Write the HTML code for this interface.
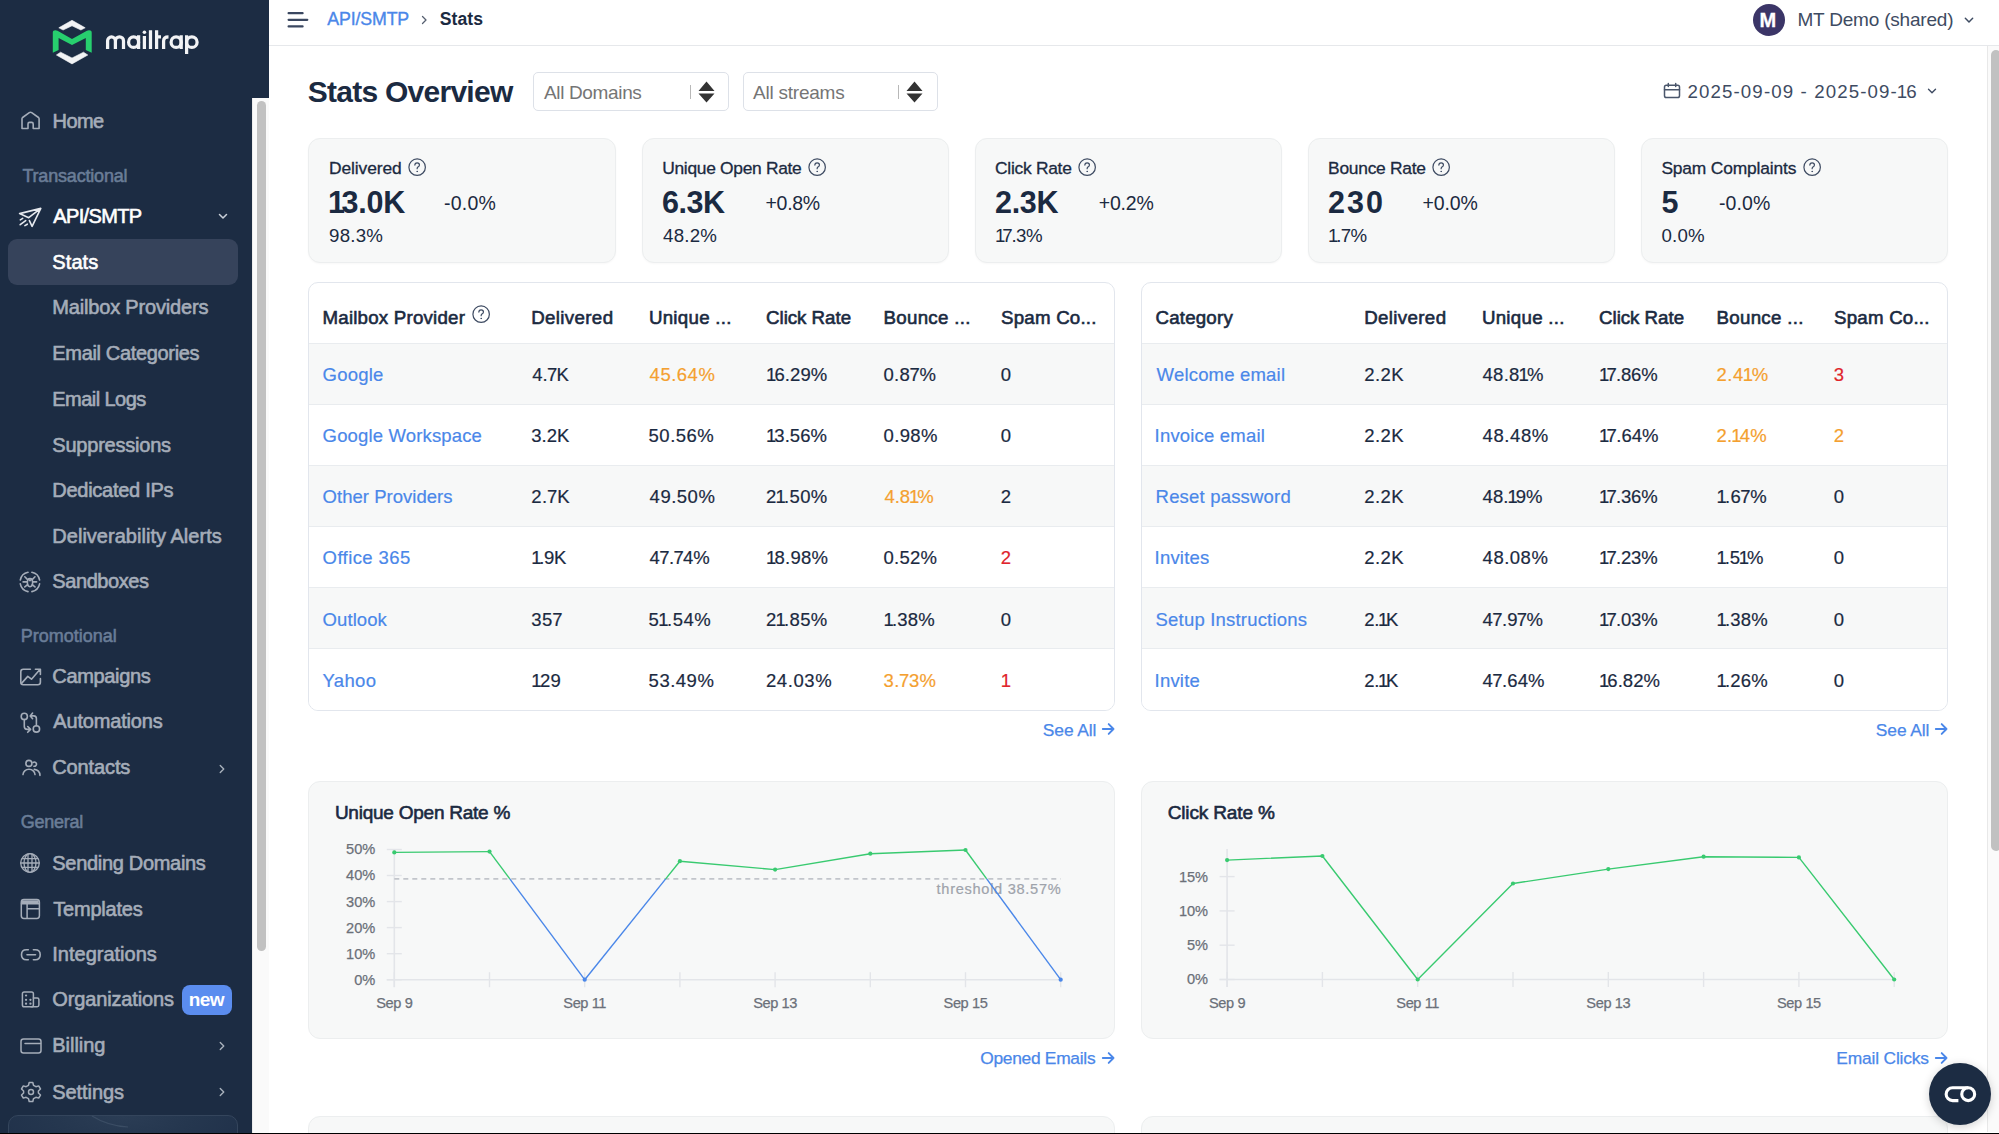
<!DOCTYPE html>
<html><head><meta charset="utf-8"><title>Stats Overview</title>
<style>
html,body{margin:0;padding:0;}
body{width:1999px;height:1134px;overflow:hidden;position:relative;background:#fff;font-family:"Liberation Sans",sans-serif;}
.t{position:absolute;white-space:nowrap;line-height:1;}
svg{position:absolute;overflow:visible;}
</style></head><body>
<div style="position:absolute;left:0px;top:0px;width:269px;height:1134px;background:#1c2c43;"></div>
<div style="position:absolute;left:252px;top:98px;width:17px;height:1036px;background:#fafafa;border-left:1px solid #ececec;box-sizing:border-box;"></div>
<div style="position:absolute;left:256.5px;top:101px;width:9px;height:850px;background:#c1c1c1;border-radius:4.5px;"></div>
<svg style="left:0;top:0" width="269" height="98" viewBox="0 0 269 98">
<path d="M58.8 27.8L72 20.3L85.2 27.8L80.9 30L72 25.8L63.1 30Z" fill="#f2f3f5" stroke="#f2f3f5" stroke-width="0.6" stroke-linejoin="round"/>
<path d="M52.8 52.7V32.6Q52.8 30.2 55.4 30.2Q56.4 30.2 57.5 30.8L72 38.9L86.9 30.8Q88 30.2 89 30.2Q91.7 30.2 91.7 32.6V52.7L85.8 49.9V38L72 44.9L58.6 38V49.9Z" fill="#27cf6e"/>
<path d="M56.4 55L60.6 52.2L72 58L83.5 52.2L87.8 55L72 63.9Z" fill="#f2f3f5" stroke="#f2f3f5" stroke-width="0.6" stroke-linejoin="round"/>
<g fill="none" stroke="#f2f3f5" stroke-width="3.25">
<path d="M107.6 49V40.8A3.9 3.9 0 0 1 115.4 40.8V49M115.4 40.8A4.05 4.05 0 0 1 123.5 40.8V49"/>
<ellipse cx="133.6" cy="42.15" rx="5" ry="5.25"/><path d="M138.6 35.25V49"/>
<path d="M144.4 36V49M150.5 30.25V49M156.6 30.25V49M155 36.9H161"/>
<path d="M163.6 49V41Q163.6 36.9 168.5 36.9"/>
<ellipse cx="176.15" cy="42.15" rx="5.05" ry="5.25"/><path d="M181.2 35.25V49"/>
<ellipse cx="191.85" cy="42.15" rx="5.25" ry="5.25"/><path d="M186.6 35.25V54"/>
</g>
<circle cx="144.4" cy="32.25" r="1.8" fill="#f2f3f5"/>
</svg>
<svg style="left:19px;top:108px" width="24" height="24" viewBox="0 0 24 24" fill="none" stroke="#a5adb9" stroke-width="1.6" stroke-linecap="round" stroke-linejoin="round"><path d="M3 20.5V10.8Q3 10 3.6 9.5L10.3 4.6Q11.5 3.8 12.7 4.6L19.5 9.5Q20.1 10 20.1 10.8V20.5H14.2V15.9Q14.2 14.4 12.7 14.4H10.5Q9 14.4 9 15.9V20.5Z"/></svg>
<svg style="left:18px;top:206px" width="24" height="24" viewBox="0 0 24 24" fill="none" stroke="#e6e9ee" stroke-width="1.6" stroke-linecap="round" stroke-linejoin="round"><path d="M22.8 2.4L1.6 7.6L10.7 11.7Z M22.8 2.4L14.1 20.4L11.4 14.6M2.3 13.9L4.7 12.4M2.2 18.7L7.7 14.6M6.9 19.6L9.3 18.2"/></svg>
<svg style="left:215.7px;top:208.8px" width="14" height="14" viewBox="0 0 24 24" fill="none" stroke="#c9cfd8" stroke-width="2.6" stroke-linecap="round" stroke-linejoin="round"><path d="M6 9.5l6 6 6-6"/></svg>
<div style="position:absolute;left:8px;top:239px;width:230px;height:46px;background:#36435b;border-radius:9px;"></div>
<svg style="left:18.2px;top:570.2px" width="24" height="24" viewBox="0 0 24 24" fill="none" stroke="#a5adb9" stroke-width="1.6" stroke-linecap="round" stroke-linejoin="round"><path d="M13.9 2.3A9.8 9.8 0 0 1 21.6 10M21.6 13.9A9.8 9.8 0 0 1 13.9 21.6M10 21.6A9.8 9.8 0 0 1 2.3 13.9M2.3 10A9.8 9.8 0 0 1 10 2.3"/><ellipse cx="12" cy="12.6" rx="2.6" ry="4.1"/><path d="M5.1 11.9H9.3M14.7 11.9H18.6M6.8 6.8L9.6 9.6M17 6.8L14.2 9.6M6.8 16.9L9.6 14.7M17 16.9L14.2 14.7M10.6 9.2L12 10.6L13.4 9.2"/></svg>
<svg style="left:18px;top:664px" width="24" height="24" viewBox="0 0 24 24" fill="none" stroke="#a5adb9" stroke-width="1.6" stroke-linecap="round" stroke-linejoin="round"><path d="M12.4 5.2H5.3Q2.8 5.2 2.8 7.7V18.3Q2.8 20.8 5.3 20.8H19.9Q22.4 20.8 22.4 18.3V14.6"/><path d="M3.5 19.4L9.8 12.4L13.5 15.2L22.1 5.3M17.4 5.2H22.4V10.5"/></svg>
<svg style="left:18px;top:710px" width="24" height="24" viewBox="0 0 24 24" fill="none" stroke="#a5adb9" stroke-width="1.6" stroke-linecap="round" stroke-linejoin="round"><circle cx="6.3" cy="6.4" r="3.1"/><circle cx="18.4" cy="18.9" r="3.2"/><path d="M6.3 9.5V16.5Q6.3 19.4 9.3 19.4H12.4M9.7 16.5L12.6 19.4L9.7 22.3M18.4 15.7V8.6Q18.4 5.9 15.8 5.9H12.4M14.6 3.1L12.2 5.9L14.6 8.7"/></svg>
<svg style="left:18.5px;top:755px" width="24" height="24" viewBox="0 0 24 24" fill="none" stroke="#a5adb9" stroke-width="1.6" stroke-linecap="round" stroke-linejoin="round"><circle cx="9.9" cy="8.4" r="3"/><path d="M14.1 7.5A2.1 2.1 0 1 1 14.9 11.2"/><path d="M4 19.6A6 5.4 0 0 1 16 19.6M15.3 14.4Q20.6 14.9 21 20.4"/></svg>
<svg style="left:215px;top:762px" width="14" height="14" viewBox="0 0 24 24" fill="none" stroke="#a9b1bc" stroke-width="2.4" stroke-linecap="round" stroke-linejoin="round"><path d="M9 6l6 6-6 6"/></svg>
<svg style="left:215px;top:1039px" width="14" height="14" viewBox="0 0 24 24" fill="none" stroke="#a9b1bc" stroke-width="2.4" stroke-linecap="round" stroke-linejoin="round"><path d="M9 6l6 6-6 6"/></svg>
<svg style="left:215px;top:1085px" width="14" height="14" viewBox="0 0 24 24" fill="none" stroke="#a9b1bc" stroke-width="2.4" stroke-linecap="round" stroke-linejoin="round"><path d="M9 6l6 6-6 6"/></svg>
<svg style="left:18.2px;top:851.2px" width="24" height="24" viewBox="0 0 24 24" fill="none" stroke="#a5adb9" stroke-width="1.3" stroke-linecap="round" stroke-linejoin="round"><circle cx="12" cy="12" r="9.3"/><ellipse cx="12" cy="12" rx="6" ry="9.3"/><path d="M10 2.9V21.1M14 2.9V21.1M4.2 7.6H19.8M2.8 12H21.2M4.2 16.4H19.8"/></svg>
<svg style="left:18px;top:897px" width="24" height="24" viewBox="0 0 24 24" fill="none" stroke="#a5adb9" stroke-width="1.5" stroke-linecap="round" stroke-linejoin="round"><rect x="3.3" y="2.6" width="18.1" height="18.8" rx="2.6"/><path d="M3.5 6.8H21.2M9.1 6.8V21.2M9.1 11.8H21.2"/><path d="M4 3.3H20.7V6.8H4Z" fill="#a5adb9" stroke="none"/></svg>
<svg style="left:18.5px;top:943px" width="24" height="24" viewBox="0 0 24 24" fill="none" stroke="#a5adb9" stroke-width="1.6" stroke-linecap="round" stroke-linejoin="round"><path d="M9.3 6.8H7.4Q2.5 6.8 2.5 11.75Q2.5 16.7 7.4 16.7H9.3M14.4 6.8H16.3Q21.2 6.8 21.2 11.75Q21.2 16.7 16.3 16.7H14.4M8 11.75H16.5"/></svg>
<svg style="left:19px;top:988px" width="24" height="24" viewBox="0 0 24 24" fill="none" stroke="#a5adb9" stroke-width="1.5" stroke-linecap="round" stroke-linejoin="round"><rect x="3.4" y="3.9" width="11" height="14.8" rx="1.8"/><path d="M14.4 9.9H18.2Q19.9 9.9 19.9 11.6V17Q19.9 18.7 18.2 18.7H12"/><path d="M7 7.5h.1M7 11.8h.1M11.4 11.8h.1M7 15.7h.1M11.4 15.7h.1" stroke-width="2.2"/></svg>
<div style="position:absolute;left:182px;top:985px;width:50px;height:30px;background:#5b8def;border-radius:8px;"></div>
<svg style="left:18.5px;top:1033.5px" width="24" height="24" viewBox="0 0 24 24" fill="none" stroke="#a5adb9" stroke-width="1.5" stroke-linecap="round" stroke-linejoin="round"><rect x="2" y="5" width="20" height="14" rx="2.5"/><path d="M6 9.5H21.5"/></svg>
<svg style="left:18.9px;top:1080.2px" width="24" height="24" viewBox="0 0 24 24" fill="none" stroke="#a5adb9" stroke-width="1.5" stroke-linecap="round" stroke-linejoin="round"><circle cx="12" cy="12" r="2.5"/><path d="M10.2 2.5H13.8L14.5 5.3L16.9 6.7L19.7 5.9L21.5 9L19.4 11V13L21.5 15L19.7 18.1L16.9 17.3L14.5 18.7L13.8 21.5H10.2L9.5 18.7L7.1 17.3L4.3 18.1L2.5 15L4.6 13V11L2.5 9L4.3 5.9L7.1 6.7L9.5 5.3Z"/></svg>
<div style="position:absolute;left:8px;top:1115px;width:230px;height:40px;background:radial-gradient(ellipse 60% 120% at 50% 0%,#2b3d55 0%,#25374f 50%,#20314a 100%);border:1px solid #34455c;border-radius:10px;box-sizing:border-box;"></div>
<svg style="left:0;top:1100px" width="269" height="34"><path d="M92 16Q108 26 128 27" fill="none" stroke="#3b4d64" stroke-width="1.2"/></svg>
<div style="position:absolute;left:269px;top:0px;width:1730px;height:45px;background:#fff;border-bottom:1px solid #e6e8eb;"></div>
<svg style="left:286px;top:11px" width="24" height="18" viewBox="0 0 24 18" fill="none" stroke="#3a4760" stroke-width="2.2" stroke-linecap="round"><path d="M2.6 2.2H16.6M2.6 8.8H21.3M2.6 15.4H16.6"/></svg>
<svg style="left:418px;top:14px" width="12" height="12" viewBox="0 0 24 24" fill="none" stroke="#555f70" stroke-width="2.6" stroke-linecap="round" stroke-linejoin="round"><path d="M9 5l7 7-7 7"/></svg>
<div style="position:absolute;left:1753px;top:3.5px;width:32px;height:32px;background:#3b3567;border-radius:50%;"></div>
<svg style="left:1961px;top:12px" width="16" height="16" viewBox="0 0 24 24" fill="none" stroke="#3e4b62" stroke-width="2.2" stroke-linecap="round" stroke-linejoin="round"><path d="M6.5 9.5l5.5 5.5 5.5-5.5"/></svg>
<div style="position:absolute;left:1987px;top:46px;width:12px;height:1086px;background:#fafafa;border-left:1px solid #e8e8e8;box-sizing:border-box;"></div>
<div style="position:absolute;left:1991px;top:50px;width:10px;height:801px;background:#c1c1c1;border-radius:5px;"></div>
<div style="position:absolute;left:533px;top:72px;width:196px;height:39px;border:1px solid #dde1e8;border-radius:5px;box-sizing:border-box;background:#fff;"></div>
<div style="position:absolute;left:689.5px;top:85px;width:1.3px;height:14px;background:#b8b8b8;"></div>
<svg style="left:697.5px;top:81px" width="17" height="22" viewBox="0 0 17 22"><path d="M8.5 0.5L16.5 10H0.5Z M0.5 12.5H16.5L8.5 21.5Z" fill="#333"/></svg>
<div style="position:absolute;left:742.5px;top:72px;width:195px;height:39px;border:1px solid #dde1e8;border-radius:5px;box-sizing:border-box;background:#fff;"></div>
<div style="position:absolute;left:898px;top:85px;width:1.3px;height:14px;background:#b8b8b8;"></div>
<svg style="left:906px;top:81px" width="17" height="22" viewBox="0 0 17 22"><path d="M8.5 0.5L16.5 10H0.5Z M0.5 12.5H16.5L8.5 21.5Z" fill="#333"/></svg>
<svg style="left:1662px;top:82px" width="20" height="18" viewBox="0 0 20 18" fill="none" stroke="#4a566b" stroke-width="1.5" stroke-linecap="round"><rect x="2.5" y="3.3" width="15" height="12.2" rx="1.8"/><path d="M2.5 7.7H17.5M6.3 1.5V4.5M13.7 1.5V4.5"/></svg>
<svg style="left:1925px;top:84px" width="14" height="14" viewBox="0 0 24 24" fill="none" stroke="#3e4b62" stroke-width="2.4" stroke-linecap="round" stroke-linejoin="round"><path d="M6 9l6 6 6-6"/></svg>
<div style="position:absolute;left:308.4px;top:138px;width:307.2px;height:124.6px;background:#f7f8f8;border:1px solid #eceeef;border-radius:12px;box-sizing:border-box;box-shadow:0 1px 2px rgba(0,0,0,0.03);"></div>
<div style="position:absolute;left:641.8px;top:138px;width:307.2px;height:124.6px;background:#f7f8f8;border:1px solid #eceeef;border-radius:12px;box-sizing:border-box;box-shadow:0 1px 2px rgba(0,0,0,0.03);"></div>
<div style="position:absolute;left:975.1px;top:138px;width:307.2px;height:124.6px;background:#f7f8f8;border:1px solid #eceeef;border-radius:12px;box-sizing:border-box;box-shadow:0 1px 2px rgba(0,0,0,0.03);"></div>
<div style="position:absolute;left:1308.3px;top:138px;width:307.2px;height:124.6px;background:#f7f8f8;border:1px solid #eceeef;border-radius:12px;box-sizing:border-box;box-shadow:0 1px 2px rgba(0,0,0,0.03);"></div>
<div style="position:absolute;left:1641.1px;top:138px;width:307.2px;height:124.6px;background:#f7f8f8;border:1px solid #eceeef;border-radius:12px;box-sizing:border-box;box-shadow:0 1px 2px rgba(0,0,0,0.03);"></div>
<svg style="left:408px;top:158.2px" width="18.3" height="18.3" viewBox="0 0 24 24" fill="none" stroke="#3e4b62" stroke-width="1.6" stroke-linecap="round" stroke-linejoin="round"><circle cx="12" cy="12" r="10.8"/><path d="M9 9.3Q9 6.3 12 6.3Q15 6.3 15 9.2Q15 11 12.8 12Q12 12.5 12 14"/><circle cx="12" cy="17.6" r="0.5" fill="#3e4b62" stroke-width="1.2"/></svg>
<svg style="left:808px;top:158.2px" width="18.3" height="18.3" viewBox="0 0 24 24" fill="none" stroke="#3e4b62" stroke-width="1.6" stroke-linecap="round" stroke-linejoin="round"><circle cx="12" cy="12" r="10.8"/><path d="M9 9.3Q9 6.3 12 6.3Q15 6.3 15 9.2Q15 11 12.8 12Q12 12.5 12 14"/><circle cx="12" cy="17.6" r="0.5" fill="#3e4b62" stroke-width="1.2"/></svg>
<svg style="left:1078.3px;top:158.2px" width="18.3" height="18.3" viewBox="0 0 24 24" fill="none" stroke="#3e4b62" stroke-width="1.6" stroke-linecap="round" stroke-linejoin="round"><circle cx="12" cy="12" r="10.8"/><path d="M9 9.3Q9 6.3 12 6.3Q15 6.3 15 9.2Q15 11 12.8 12Q12 12.5 12 14"/><circle cx="12" cy="17.6" r="0.5" fill="#3e4b62" stroke-width="1.2"/></svg>
<svg style="left:1432px;top:158.2px" width="18.3" height="18.3" viewBox="0 0 24 24" fill="none" stroke="#3e4b62" stroke-width="1.6" stroke-linecap="round" stroke-linejoin="round"><circle cx="12" cy="12" r="10.8"/><path d="M9 9.3Q9 6.3 12 6.3Q15 6.3 15 9.2Q15 11 12.8 12Q12 12.5 12 14"/><circle cx="12" cy="17.6" r="0.5" fill="#3e4b62" stroke-width="1.2"/></svg>
<svg style="left:1803.3px;top:158.2px" width="18.3" height="18.3" viewBox="0 0 24 24" fill="none" stroke="#3e4b62" stroke-width="1.6" stroke-linecap="round" stroke-linejoin="round"><circle cx="12" cy="12" r="10.8"/><path d="M9 9.3Q9 6.3 12 6.3Q15 6.3 15 9.2Q15 11 12.8 12Q12 12.5 12 14"/><circle cx="12" cy="17.6" r="0.5" fill="#3e4b62" stroke-width="1.2"/></svg>
<div style="position:absolute;left:308.4px;top:282px;width:807px;height:429px;background:#fff;border:1.5px solid #e2e6ed;border-radius:10px;box-sizing:border-box;overflow:hidden;"><div style="position:absolute;left:0;top:59.80px;width:100%;height:62px;background:#f7f8f8;border-top:1px solid #e9ecef;box-sizing:border-box;"></div><div style="position:absolute;left:0;top:120.92px;width:100%;height:62px;background:#ffffff;border-top:1px solid #e9ecef;box-sizing:border-box;"></div><div style="position:absolute;left:0;top:182.04px;width:100%;height:62px;background:#f7f8f8;border-top:1px solid #e9ecef;box-sizing:border-box;"></div><div style="position:absolute;left:0;top:243.16px;width:100%;height:62px;background:#ffffff;border-top:1px solid #e9ecef;box-sizing:border-box;"></div><div style="position:absolute;left:0;top:304.28px;width:100%;height:62px;background:#f7f8f8;border-top:1px solid #e9ecef;box-sizing:border-box;"></div><div style="position:absolute;left:0;top:365.40px;width:100%;height:62px;background:#ffffff;border-top:1px solid #e9ecef;box-sizing:border-box;"></div></div>
<div style="position:absolute;left:1141.4px;top:282px;width:807px;height:429px;background:#fff;border:1.5px solid #e2e6ed;border-radius:10px;box-sizing:border-box;overflow:hidden;"><div style="position:absolute;left:0;top:59.80px;width:100%;height:62px;background:#f7f8f8;border-top:1px solid #e9ecef;box-sizing:border-box;"></div><div style="position:absolute;left:0;top:120.92px;width:100%;height:62px;background:#ffffff;border-top:1px solid #e9ecef;box-sizing:border-box;"></div><div style="position:absolute;left:0;top:182.04px;width:100%;height:62px;background:#f7f8f8;border-top:1px solid #e9ecef;box-sizing:border-box;"></div><div style="position:absolute;left:0;top:243.16px;width:100%;height:62px;background:#ffffff;border-top:1px solid #e9ecef;box-sizing:border-box;"></div><div style="position:absolute;left:0;top:304.28px;width:100%;height:62px;background:#f7f8f8;border-top:1px solid #e9ecef;box-sizing:border-box;"></div><div style="position:absolute;left:0;top:365.40px;width:100%;height:62px;background:#ffffff;border-top:1px solid #e9ecef;box-sizing:border-box;"></div></div>
<svg style="left:471.5px;top:304.5px" width="18.3" height="18.3" viewBox="0 0 24 24" fill="none" stroke="#3e4b62" stroke-width="1.6" stroke-linecap="round" stroke-linejoin="round"><circle cx="12" cy="12" r="10.8"/><path d="M9 9.3Q9 6.3 12 6.3Q15 6.3 15 9.2Q15 11 12.8 12Q12 12.5 12 14"/><circle cx="12" cy="17.6" r="0.5" fill="#3e4b62" stroke-width="1.2"/></svg>
<svg style="left:1099.9px;top:722.2px" width="16.299999999999955" height="14" viewBox="-2 -7 16.299999999999955 14" fill="none" stroke="#4a87e9" stroke-width="1.9" stroke-linecap="round" stroke-linejoin="round"><path d="M0.8 0H11.499999999999954M6.699999999999955 -4.9L11.499999999999954 0L6.699999999999955 4.9"/></svg>
<svg style="left:1932.9px;top:722.2px" width="16.299999999999955" height="14" viewBox="-2 -7 16.299999999999955 14" fill="none" stroke="#4a87e9" stroke-width="1.9" stroke-linecap="round" stroke-linejoin="round"><path d="M0.8 0H11.499999999999954M6.699999999999955 -4.9L11.499999999999954 0L6.699999999999955 4.9"/></svg>
<svg style="left:1100.2px;top:1050.6px" width="16.299999999999955" height="14" viewBox="-2 -7 16.299999999999955 14" fill="none" stroke="#4a87e9" stroke-width="1.9" stroke-linecap="round" stroke-linejoin="round"><path d="M0.8 0H11.499999999999954M6.699999999999955 -4.9L11.499999999999954 0L6.699999999999955 4.9"/></svg>
<svg style="left:1932.7px;top:1050.6px" width="16.299999999999955" height="14" viewBox="-2 -7 16.299999999999955 14" fill="none" stroke="#4a87e9" stroke-width="1.9" stroke-linecap="round" stroke-linejoin="round"><path d="M0.8 0H11.499999999999954M6.699999999999955 -4.9L11.499999999999954 0L6.699999999999955 4.9"/></svg>
<div style="position:absolute;left:308.4px;top:781px;width:807px;height:258px;background:#f7f8f8;border:1px solid #eceeef;border-radius:12px;box-sizing:border-box;"></div>
<div style="position:absolute;left:1141.4px;top:781px;width:807px;height:258px;background:#f7f8f8;border:1px solid #eceeef;border-radius:12px;box-sizing:border-box;"></div>
<svg style="left:0;top:0" width="1999" height="1134" viewBox="0 0 1999 1134"><path d="M394.3 849V987M386.8 979.7H1060.7" stroke="#e3e5e9" stroke-width="1.6" fill="none"/><path d="M386.8 979.7H401.8" stroke="#e3e5e9" stroke-width="1.4"/><text x="375.3" y="984.6" text-anchor="end" font-family="Liberation Sans" font-size="14.6" fill="#6b7079" stroke="#6b7079" stroke-width="0.25">0%</text><path d="M386.8 953.7H401.8" stroke="#e3e5e9" stroke-width="1.4"/><text x="375.3" y="958.6" text-anchor="end" font-family="Liberation Sans" font-size="14.6" fill="#6b7079" stroke="#6b7079" stroke-width="0.25">10%</text><path d="M386.8 927.6H401.8" stroke="#e3e5e9" stroke-width="1.4"/><text x="375.3" y="932.5" text-anchor="end" font-family="Liberation Sans" font-size="14.6" fill="#6b7079" stroke="#6b7079" stroke-width="0.25">20%</text><path d="M386.8 901.6H401.8" stroke="#e3e5e9" stroke-width="1.4"/><text x="375.3" y="906.5" text-anchor="end" font-family="Liberation Sans" font-size="14.6" fill="#6b7079" stroke="#6b7079" stroke-width="0.25">30%</text><path d="M386.8 875.5H401.8" stroke="#e3e5e9" stroke-width="1.4"/><text x="375.3" y="880.4" text-anchor="end" font-family="Liberation Sans" font-size="14.6" fill="#6b7079" stroke="#6b7079" stroke-width="0.25">40%</text><path d="M386.8 849.5H401.8" stroke="#e3e5e9" stroke-width="1.4"/><text x="375.3" y="854.4" text-anchor="end" font-family="Liberation Sans" font-size="14.6" fill="#6b7079" stroke="#6b7079" stroke-width="0.25">50%</text><path d="M394.3 972.2V987.2" stroke="#e3e5e9" stroke-width="1.4"/><path d="M489.5 972.2V987.2" stroke="#e3e5e9" stroke-width="1.4"/><path d="M584.7 972.2V987.2" stroke="#e3e5e9" stroke-width="1.4"/><path d="M679.9 972.2V987.2" stroke="#e3e5e9" stroke-width="1.4"/><path d="M775.1 972.2V987.2" stroke="#e3e5e9" stroke-width="1.4"/><path d="M870.3 972.2V987.2" stroke="#e3e5e9" stroke-width="1.4"/><path d="M965.5 972.2V987.2" stroke="#e3e5e9" stroke-width="1.4"/><path d="M1060.7 972.2V987.2" stroke="#e3e5e9" stroke-width="1.4"/><text x="394.3" y="1008" text-anchor="middle" font-family="Liberation Sans" font-size="14.6" fill="#6b7079" stroke="#6b7079" stroke-width="0.25" letter-spacing="-0.4">Sep 9</text><text x="584.7" y="1008" text-anchor="middle" font-family="Liberation Sans" font-size="14.6" fill="#6b7079" stroke="#6b7079" stroke-width="0.25" letter-spacing="-0.4">Sep 11</text><text x="775.1" y="1008" text-anchor="middle" font-family="Liberation Sans" font-size="14.6" fill="#6b7079" stroke="#6b7079" stroke-width="0.25" letter-spacing="-0.4">Sep 13</text><text x="965.5" y="1008" text-anchor="middle" font-family="Liberation Sans" font-size="14.6" fill="#6b7079" stroke="#6b7079" stroke-width="0.25" letter-spacing="-0.4">Sep 15</text><path d="M394.3 878.9H1060.7" stroke="#c2c5cb" stroke-width="1.6" stroke-dasharray="5 4" fill="none"/><text x="1061.4" y="894.3" text-anchor="end" font-family="Liberation Sans" font-size="14.6" fill="#9ea3ab" stroke="#9ea3ab" stroke-width="0.2" letter-spacing="0.7">threshold 38.57%</text><path d="M394.3 852.4L489.5 851.6" stroke="#39ca70" stroke-width="1.4" fill="none"/><path d="M489.5 851.6L509.8 878.9" stroke="#39ca70" stroke-width="1.4" fill="none"/><path d="M509.8 878.9L584.7 979.7" stroke="#4a87e9" stroke-width="1.4" fill="none"/><path d="M584.7 979.7L665.7 878.9" stroke="#4a87e9" stroke-width="1.4" fill="none"/><path d="M665.7 878.9L679.9 861.2" stroke="#39ca70" stroke-width="1.4" fill="none"/><path d="M679.9 861.2L775.1 869.6" stroke="#39ca70" stroke-width="1.4" fill="none"/><path d="M775.1 869.6L870.3 853.7" stroke="#39ca70" stroke-width="1.4" fill="none"/><path d="M870.3 853.7L965.5 850.0" stroke="#39ca70" stroke-width="1.4" fill="none"/><path d="M965.5 850.0L986.7 878.9" stroke="#39ca70" stroke-width="1.4" fill="none"/><path d="M986.7 878.9L1060.7 979.7" stroke="#4a87e9" stroke-width="1.4" fill="none"/><circle cx="394.3" cy="852.4" r="2.1" fill="#39ca70"/><circle cx="489.5" cy="851.6" r="2.1" fill="#39ca70"/><circle cx="584.7" cy="979.7" r="2.1" fill="#4a87e9"/><circle cx="679.9" cy="861.2" r="2.1" fill="#39ca70"/><circle cx="775.1" cy="869.6" r="2.1" fill="#39ca70"/><circle cx="870.3" cy="853.7" r="2.1" fill="#39ca70"/><circle cx="965.5" cy="850.0" r="2.1" fill="#39ca70"/><circle cx="1060.7" cy="979.7" r="2.1" fill="#4a87e9"/><path d="M1227.1 849V987M1219.6 979.5H1894.1999999999998" stroke="#e3e5e9" stroke-width="1.6" fill="none"/><path d="M1219.6 979.5H1234.6" stroke="#e3e5e9" stroke-width="1.4"/><text x="1208.1" y="984.4" text-anchor="end" font-family="Liberation Sans" font-size="14.6" fill="#6b7079" stroke="#6b7079" stroke-width="0.25">0%</text><path d="M1219.6 945.2H1234.6" stroke="#e3e5e9" stroke-width="1.4"/><text x="1208.1" y="950.1" text-anchor="end" font-family="Liberation Sans" font-size="14.6" fill="#6b7079" stroke="#6b7079" stroke-width="0.25">5%</text><path d="M1219.6 910.9H1234.6" stroke="#e3e5e9" stroke-width="1.4"/><text x="1208.1" y="915.8" text-anchor="end" font-family="Liberation Sans" font-size="14.6" fill="#6b7079" stroke="#6b7079" stroke-width="0.25">10%</text><path d="M1219.6 876.6H1234.6" stroke="#e3e5e9" stroke-width="1.4"/><text x="1208.1" y="881.5" text-anchor="end" font-family="Liberation Sans" font-size="14.6" fill="#6b7079" stroke="#6b7079" stroke-width="0.25">15%</text><path d="M1227.1 972.0V987.0" stroke="#e3e5e9" stroke-width="1.4"/><path d="M1322.4 972.0V987.0" stroke="#e3e5e9" stroke-width="1.4"/><path d="M1417.7 972.0V987.0" stroke="#e3e5e9" stroke-width="1.4"/><path d="M1513.0 972.0V987.0" stroke="#e3e5e9" stroke-width="1.4"/><path d="M1608.3 972.0V987.0" stroke="#e3e5e9" stroke-width="1.4"/><path d="M1703.6 972.0V987.0" stroke="#e3e5e9" stroke-width="1.4"/><path d="M1798.9 972.0V987.0" stroke="#e3e5e9" stroke-width="1.4"/><path d="M1894.2 972.0V987.0" stroke="#e3e5e9" stroke-width="1.4"/><text x="1227.1" y="1008" text-anchor="middle" font-family="Liberation Sans" font-size="14.6" fill="#6b7079" stroke="#6b7079" stroke-width="0.25" letter-spacing="-0.4">Sep 9</text><text x="1417.7" y="1008" text-anchor="middle" font-family="Liberation Sans" font-size="14.6" fill="#6b7079" stroke="#6b7079" stroke-width="0.25" letter-spacing="-0.4">Sep 11</text><text x="1608.3" y="1008" text-anchor="middle" font-family="Liberation Sans" font-size="14.6" fill="#6b7079" stroke="#6b7079" stroke-width="0.25" letter-spacing="-0.4">Sep 13</text><text x="1798.9" y="1008" text-anchor="middle" font-family="Liberation Sans" font-size="14.6" fill="#6b7079" stroke="#6b7079" stroke-width="0.25" letter-spacing="-0.4">Sep 15</text><path d="M1227.1 860.1L1322.4 856.0L1417.7 979.5L1513.0 883.5L1608.3 869.1L1703.6 856.7L1798.9 857.4L1894.2 979.5" stroke="#39ca70" stroke-width="1.4" fill="none" stroke-linejoin="round"/><circle cx="1227.1" cy="860.1" r="2.1" fill="#39ca70"/><circle cx="1322.4" cy="856.0" r="2.1" fill="#39ca70"/><circle cx="1417.7" cy="979.5" r="2.1" fill="#39ca70"/><circle cx="1513.0" cy="883.5" r="2.1" fill="#39ca70"/><circle cx="1608.3" cy="869.1" r="2.1" fill="#39ca70"/><circle cx="1703.6" cy="856.7" r="2.1" fill="#39ca70"/><circle cx="1798.9" cy="857.4" r="2.1" fill="#39ca70"/><circle cx="1894.2" cy="979.5" r="2.1" fill="#39ca70"/></svg>
<div style="position:absolute;left:308.4px;top:1116px;width:807px;height:60px;background:#f7f8f8;border:1px solid #eceeef;border-radius:12px;box-sizing:border-box;"></div>
<div style="position:absolute;left:1141.4px;top:1116px;width:807px;height:60px;background:#f7f8f8;border:1px solid #eceeef;border-radius:12px;box-sizing:border-box;"></div>
<div style="position:absolute;left:1929px;top:1063px;width:62px;height:62px;background:#1c2c43;border-radius:50%;box-shadow:0 2px 10px rgba(0,0,0,0.18);"></div>
<svg style="left:1940px;top:1082px" width="40" height="24" viewBox="0 0 40 24" fill="none" stroke="#fff" stroke-width="3.1"><path d="M18.4 18.6H12.6A6.45 6.45 0 0 1 12.6 5.7H28.2"/><circle cx="28.2" cy="12.15" r="6.45"/></svg>
<div class="t" style="left:52.60px;top:110.80px;font-size:20px;color:#a5adb9;letter-spacing:-0.567px;--l:-0.567px;-webkit-text-stroke:0.6px #a5adb9;">Home</div>
<div class="t" style="left:53.30px;top:206.00px;font-size:20px;color:#ffffff;letter-spacing:-0.643px;--l:-0.643px;-webkit-text-stroke:0.6px #ffffff;">API/SMTP</div>
<div class="t" style="left:52.30px;top:251.70px;font-size:20px;color:#ffffff;letter-spacing:0.100px;--l:0.100px;-webkit-text-stroke:0.6px #ffffff;">Stats</div>
<div class="t" style="left:52.30px;top:297.20px;font-size:20px;color:#a5adb9;letter-spacing:-0.175px;--l:-0.175px;-webkit-text-stroke:0.6px #a5adb9;">Mailbox Providers</div>
<div class="t" style="left:52.30px;top:343.30px;font-size:20px;color:#a5adb9;letter-spacing:-0.333px;--l:-0.333px;-webkit-text-stroke:0.6px #a5adb9;">Email Categories</div>
<div class="t" style="left:52.30px;top:388.90px;font-size:20px;color:#a5adb9;letter-spacing:-0.556px;--l:-0.556px;-webkit-text-stroke:0.6px #a5adb9;">Email Logs</div>
<div class="t" style="left:52.30px;top:434.50px;font-size:20px;color:#a5adb9;letter-spacing:-0.218px;--l:-0.218px;-webkit-text-stroke:0.6px #a5adb9;">Suppressions</div>
<div class="t" style="left:52.30px;top:480.00px;font-size:20px;color:#a5adb9;letter-spacing:-0.275px;--l:-0.275px;-webkit-text-stroke:0.6px #a5adb9;">Dedicated IPs</div>
<div class="t" style="left:52.30px;top:525.60px;font-size:20px;color:#a5adb9;letter-spacing:0.025px;--l:0.025px;-webkit-text-stroke:0.6px #a5adb9;">Deliverability Alerts</div>
<div class="t" style="left:52.30px;top:571.20px;font-size:20px;color:#a5adb9;letter-spacing:-0.412px;--l:-0.412px;-webkit-text-stroke:0.6px #a5adb9;">Sandboxes</div>
<div class="t" style="left:52.30px;top:665.70px;font-size:20px;color:#a5adb9;letter-spacing:-0.338px;--l:-0.338px;-webkit-text-stroke:0.6px #a5adb9;">Campaigns</div>
<div class="t" style="left:53.30px;top:711.40px;font-size:20px;color:#a5adb9;letter-spacing:-0.180px;--l:-0.180px;-webkit-text-stroke:0.6px #a5adb9;">Automations</div>
<div class="t" style="left:52.30px;top:757.00px;font-size:20px;color:#a5adb9;letter-spacing:-0.129px;--l:-0.129px;-webkit-text-stroke:0.6px #a5adb9;">Contacts</div>
<div class="t" style="left:52.30px;top:852.60px;font-size:20px;color:#a5adb9;letter-spacing:-0.307px;--l:-0.307px;-webkit-text-stroke:0.6px #a5adb9;">Sending Domains</div>
<div class="t" style="left:53.30px;top:898.50px;font-size:20px;color:#a5adb9;letter-spacing:-0.225px;--l:-0.225px;-webkit-text-stroke:0.6px #a5adb9;">Templates</div>
<div class="t" style="left:52.30px;top:944.00px;font-size:20px;color:#a5adb9;-webkit-text-stroke:0.6px #a5adb9;">Integrations</div>
<div class="t" style="left:52.30px;top:989.20px;font-size:20px;color:#a5adb9;letter-spacing:-0.150px;--l:-0.150px;-webkit-text-stroke:0.6px #a5adb9;">Organizations</div>
<div class="t" style="left:52.30px;top:1035.00px;font-size:20px;color:#a5adb9;letter-spacing:-0.033px;--l:-0.033px;-webkit-text-stroke:0.6px #a5adb9;">Billing</div>
<div class="t" style="left:52.30px;top:1081.70px;font-size:20px;color:#a5adb9;letter-spacing:-0.071px;--l:-0.071px;-webkit-text-stroke:0.6px #a5adb9;">Settings</div>
<div class="t" style="left:22.40px;top:166.80px;font-size:18px;color:#6a7d97;letter-spacing:-0.183px;--l:-0.183px;-webkit-text-stroke:0.55px #6a7d97;">Transactional</div>
<div class="t" style="left:20.70px;top:627.00px;font-size:18px;color:#6a7d97;letter-spacing:-0.010px;--l:-0.010px;-webkit-text-stroke:0.55px #6a7d97;">Promotional</div>
<div class="t" style="left:20.70px;top:813.40px;font-size:18px;color:#6a7d97;letter-spacing:-0.250px;--l:-0.250px;-webkit-text-stroke:0.55px #6a7d97;">General</div>
<div class="t" style="left:188.70px;top:990.20px;font-size:19px;color:#ffffff;font-weight:700;letter-spacing:-0.500px;--l:-0.500px;">new</div>
<div class="t" style="left:327.30px;top:11.30px;font-size:17.8px;color:#4a87e9;letter-spacing:-0.157px;--l:-0.157px;-webkit-text-stroke:0.35px #4a87e9;">API/SMTP</div>
<div class="t" style="left:439.70px;top:11.30px;font-size:17.6px;color:#1b2a41;font-weight:700;letter-spacing:0.075px;--l:0.075px;">Stats</div>
<div class="t" style="left:1797.40px;top:10.30px;font-size:19px;color:#3e4b62;letter-spacing:-0.193px;--l:-0.193px;">MT Demo (shared)</div>
<div class="t" style="left:1759.60px;top:10.00px;font-size:20px;color:#ffffff;font-weight:700;-webkit-text-stroke:0.3px #ffffff;">M</div>
<div class="t" style="left:307.80px;top:77.30px;font-size:30px;color:#1b2a41;font-weight:700;letter-spacing:-0.746px;--l:-0.746px;">Stats Overview</div>
<div class="t" style="left:544.00px;top:82.70px;font-size:19px;color:#757575;letter-spacing:-0.350px;--l:-0.350px;">All Domains</div>
<div class="t" style="left:753.00px;top:82.70px;font-size:19px;color:#757575;letter-spacing:-0.230px;--l:-0.230px;">All streams</div>
<div class="t" style="left:1687.50px;top:83.40px;font-size:18.7px;color:#3e4b62;letter-spacing:1.114px;--l:1.114px;">2025-09-09 - 2025-09<span style="letter-spacing:calc(var(--l) + -1.12px)">-</span><span style="letter-spacing:calc(var(--l) + -2.06px)">1</span>6</div>
<div class="t" style="left:329.00px;top:159.80px;font-size:17.4px;color:#1b2a41;letter-spacing:-0.100px;--l:-0.100px;-webkit-text-stroke:0.3px #1b2a41;">Delivered</div>
<div class="t" style="left:662.20px;top:159.80px;font-size:17.4px;color:#1b2a41;letter-spacing:-0.300px;--l:-0.300px;-webkit-text-stroke:0.3px #1b2a41;">Unique Open Rate</div>
<div class="t" style="left:995.10px;top:159.80px;font-size:17.4px;color:#1b2a41;letter-spacing:-0.278px;--l:-0.278px;-webkit-text-stroke:0.3px #1b2a41;">Click Rate</div>
<div class="t" style="left:1328.10px;top:159.80px;font-size:17.4px;color:#1b2a41;letter-spacing:-0.270px;--l:-0.270px;-webkit-text-stroke:0.3px #1b2a41;">Bounce Rate</div>
<div class="t" style="left:1661.40px;top:159.80px;font-size:17.4px;color:#1b2a41;letter-spacing:-0.164px;--l:-0.164px;-webkit-text-stroke:0.3px #1b2a41;">Spam Complaints</div>
<div class="t" style="left:328.00px;top:187.30px;font-size:30.5px;color:#1b2a41;font-weight:700;letter-spacing:-0.175px;--l:-0.175px;"><span style="letter-spacing:calc(var(--l) + -3.35px)">1</span>3.0K</div>
<div class="t" style="left:662.00px;top:187.30px;font-size:30.5px;color:#1b2a41;font-weight:700;letter-spacing:-0.500px;--l:-0.500px;">6.3K</div>
<div class="t" style="left:995.10px;top:187.30px;font-size:30.5px;color:#1b2a41;font-weight:700;letter-spacing:-0.367px;--l:-0.367px;">2.3K</div>
<div class="t" style="left:1328.00px;top:187.30px;font-size:30.5px;color:#1b2a41;font-weight:700;letter-spacing:2.000px;--l:2.000px;">230</div>
<div class="t" style="left:1661.40px;top:187.30px;font-size:30.5px;color:#1b2a41;font-weight:700;">5</div>
<div class="t" style="left:444.00px;top:193.60px;font-size:19.5px;color:#1b2a41;letter-spacing:0.250px;--l:0.250px;">-0.0%</div>
<div class="t" style="left:765.50px;top:193.60px;font-size:19.5px;color:#1b2a41;letter-spacing:-0.300px;--l:-0.300px;">+0.8%</div>
<div class="t" style="left:1098.70px;top:193.60px;font-size:19.5px;color:#1b2a41;letter-spacing:-0.175px;--l:-0.175px;">+0.2%</div>
<div class="t" style="left:1422.50px;top:193.60px;font-size:19.5px;color:#1b2a41;letter-spacing:-0.150px;--l:-0.150px;">+0.0%</div>
<div class="t" style="left:1719.00px;top:193.60px;font-size:19.5px;color:#1b2a41;letter-spacing:0.075px;--l:0.075px;">-0.0%</div>
<div class="t" style="left:329.00px;top:226.70px;font-size:18.7px;color:#1b2a41;letter-spacing:0.250px;--l:0.250px;">98.3%</div>
<div class="t" style="left:663.00px;top:226.70px;font-size:18.7px;color:#1b2a41;letter-spacing:0.250px;--l:0.250px;">48.2%</div>
<div class="t" style="left:995.00px;top:226.70px;font-size:18.7px;color:#1b2a41;letter-spacing:-0.525px;--l:-0.525px;"><span style="letter-spacing:calc(var(--l) + -2.71px)">1</span><span style="letter-spacing:calc(var(--l) + -0.65px)">7</span>.3%</div>
<div class="t" style="left:1328.00px;top:226.70px;font-size:18.7px;color:#1b2a41;letter-spacing:-0.067px;--l:-0.067px;"><span style="letter-spacing:calc(var(--l) + -2.06px)">1</span><span style="letter-spacing:calc(var(--l) + -0.65px)">.</span><span style="letter-spacing:calc(var(--l) + -0.65px)">7</span>%</div>
<div class="t" style="left:1661.40px;top:226.70px;font-size:18.7px;color:#1b2a41;letter-spacing:0.200px;--l:0.200px;">0.0%</div>
<div class="t" style="left:322.50px;top:308.90px;font-size:18.7px;color:#1b2a41;letter-spacing:0.213px;--l:0.213px;-webkit-text-stroke:0.6px #1b2a41;">Mailbox Provider</div>
<div class="t" style="left:531.20px;top:308.90px;font-size:18.7px;color:#1b2a41;letter-spacing:0.362px;--l:0.362px;-webkit-text-stroke:0.6px #1b2a41;">Delivered</div>
<div class="t" style="left:648.90px;top:308.90px;font-size:18.7px;color:#1b2a41;letter-spacing:0.289px;--l:0.289px;-webkit-text-stroke:0.6px #1b2a41;">Unique ...</div>
<div class="t" style="left:766.00px;top:308.90px;font-size:18.7px;color:#1b2a41;letter-spacing:-0.011px;--l:-0.011px;-webkit-text-stroke:0.6px #1b2a41;">Click Rate</div>
<div class="t" style="left:883.50px;top:308.90px;font-size:18.7px;color:#1b2a41;letter-spacing:0.300px;--l:0.300px;-webkit-text-stroke:0.6px #1b2a41;">Bounce ...</div>
<div class="t" style="left:1001.10px;top:308.90px;font-size:18.7px;color:#1b2a41;letter-spacing:0.211px;--l:0.211px;-webkit-text-stroke:0.6px #1b2a41;">Spam Co...</div>
<div class="t" style="left:1155.50px;top:308.90px;font-size:18.7px;color:#1b2a41;letter-spacing:0.200px;--l:0.200px;-webkit-text-stroke:0.6px #1b2a41;">Category</div>
<div class="t" style="left:1364.20px;top:308.90px;font-size:18.7px;color:#1b2a41;letter-spacing:0.362px;--l:0.362px;-webkit-text-stroke:0.6px #1b2a41;">Delivered</div>
<div class="t" style="left:1481.90px;top:308.90px;font-size:18.7px;color:#1b2a41;letter-spacing:0.289px;--l:0.289px;-webkit-text-stroke:0.6px #1b2a41;">Unique ...</div>
<div class="t" style="left:1599.00px;top:308.90px;font-size:18.7px;color:#1b2a41;letter-spacing:-0.011px;--l:-0.011px;-webkit-text-stroke:0.6px #1b2a41;">Click Rate</div>
<div class="t" style="left:1716.50px;top:308.90px;font-size:18.7px;color:#1b2a41;letter-spacing:0.300px;--l:0.300px;-webkit-text-stroke:0.6px #1b2a41;">Bounce ...</div>
<div class="t" style="left:1834.10px;top:308.90px;font-size:18.7px;color:#1b2a41;letter-spacing:0.211px;--l:0.211px;-webkit-text-stroke:0.6px #1b2a41;">Spam Co...</div>
<div class="t" style="left:322.60px;top:366.10px;font-size:18.5px;color:#4a87e9;letter-spacing:0.200px;--l:0.200px;-webkit-text-stroke:0.2px #4a87e9;">Google</div>
<div class="t" style="left:532.30px;top:366.10px;font-size:18.5px;color:#1b2a41;letter-spacing:-0.067px;--l:-0.067px;-webkit-text-stroke:0.2px #1b2a41;">4<span style="letter-spacing:calc(var(--l) + -0.65px)">.</span><span style="letter-spacing:calc(var(--l) + -0.65px)">7</span>K</div>
<div class="t" style="left:649.60px;top:366.10px;font-size:18.5px;color:#f4a02f;letter-spacing:0.500px;--l:0.500px;-webkit-text-stroke:0.2px #f4a02f;">45.64%</div>
<div class="t" style="left:766.00px;top:366.10px;font-size:18.5px;color:#1b2a41;letter-spacing:0.120px;--l:0.120px;-webkit-text-stroke:0.2px #1b2a41;"><span style="letter-spacing:calc(var(--l) + -2.04px)">1</span>6.29%</div>
<div class="t" style="left:883.50px;top:366.10px;font-size:18.5px;color:#1b2a41;letter-spacing:0.325px;--l:0.325px;-webkit-text-stroke:0.2px #1b2a41;">0.<span style="letter-spacing:calc(var(--l) + -0.65px)">8</span><span style="letter-spacing:calc(var(--l) + -0.65px)">7</span>%</div>
<div class="t" style="left:1000.80px;top:366.10px;font-size:18.5px;color:#1b2a41;letter-spacing:0.500px;--l:0.500px;-webkit-text-stroke:0.2px #1b2a41;">0</div>
<div class="t" style="left:322.60px;top:427.22px;font-size:18.5px;color:#4a87e9;letter-spacing:0.153px;--l:0.153px;-webkit-text-stroke:0.2px #4a87e9;">Google Workspace</div>
<div class="t" style="left:531.30px;top:427.22px;font-size:18.5px;color:#1b2a41;letter-spacing:0.000px;--l:0.000px;-webkit-text-stroke:0.2px #1b2a41;">3.2K</div>
<div class="t" style="left:648.60px;top:427.22px;font-size:18.5px;color:#1b2a41;letter-spacing:0.480px;--l:0.480px;-webkit-text-stroke:0.2px #1b2a41;">50.56%</div>
<div class="t" style="left:766.00px;top:427.22px;font-size:18.5px;color:#1b2a41;letter-spacing:0.060px;--l:0.060px;-webkit-text-stroke:0.2px #1b2a41;"><span style="letter-spacing:calc(var(--l) + -2.04px)">1</span>3.56%</div>
<div class="t" style="left:883.50px;top:427.22px;font-size:18.5px;color:#1b2a41;letter-spacing:0.375px;--l:0.375px;-webkit-text-stroke:0.2px #1b2a41;">0.98%</div>
<div class="t" style="left:1000.80px;top:427.22px;font-size:18.5px;color:#1b2a41;letter-spacing:0.500px;--l:0.500px;-webkit-text-stroke:0.2px #1b2a41;">0</div>
<div class="t" style="left:322.60px;top:488.34px;font-size:18.5px;color:#4a87e9;letter-spacing:0.029px;--l:0.029px;-webkit-text-stroke:0.2px #4a87e9;">Other Providers</div>
<div class="t" style="left:531.30px;top:488.34px;font-size:18.5px;color:#1b2a41;letter-spacing:0.500px;--l:0.500px;-webkit-text-stroke:0.2px #1b2a41;">2<span style="letter-spacing:calc(var(--l) + -0.65px)">.</span><span style="letter-spacing:calc(var(--l) + -0.65px)">7</span>K</div>
<div class="t" style="left:649.60px;top:488.34px;font-size:18.5px;color:#1b2a41;letter-spacing:0.500px;--l:0.500px;-webkit-text-stroke:0.2px #1b2a41;">49.50%</div>
<div class="t" style="left:766.00px;top:488.34px;font-size:18.5px;color:#1b2a41;letter-spacing:0.320px;--l:0.320px;-webkit-text-stroke:0.2px #1b2a41;"><span style="letter-spacing:calc(var(--l) + -1.11px)">2</span><span style="letter-spacing:calc(var(--l) + -2.04px)">1</span>.50%</div>
<div class="t" style="left:884.50px;top:488.34px;font-size:18.5px;color:#f4a02f;letter-spacing:-0.050px;--l:-0.050px;-webkit-text-stroke:0.2px #f4a02f;">4.<span style="letter-spacing:calc(var(--l) + -1.11px)">8</span><span style="letter-spacing:calc(var(--l) + -2.04px)">1</span>%</div>
<div class="t" style="left:1000.80px;top:488.34px;font-size:18.5px;color:#1b2a41;letter-spacing:0.500px;--l:0.500px;-webkit-text-stroke:0.2px #1b2a41;">2</div>
<div class="t" style="left:322.60px;top:549.46px;font-size:18.5px;color:#4a87e9;letter-spacing:0.411px;--l:0.411px;-webkit-text-stroke:0.2px #4a87e9;">Office 365</div>
<div class="t" style="left:531.30px;top:549.46px;font-size:18.5px;color:#1b2a41;letter-spacing:-0.333px;--l:-0.333px;-webkit-text-stroke:0.2px #1b2a41;"><span style="letter-spacing:calc(var(--l) + -2.04px)">1</span>.9K</div>
<div class="t" style="left:649.60px;top:549.46px;font-size:18.5px;color:#1b2a41;letter-spacing:0.000px;--l:0.000px;-webkit-text-stroke:0.2px #1b2a41;"><span style="letter-spacing:calc(var(--l) + -0.65px)">4</span><span style="letter-spacing:calc(var(--l) + -0.65px)">7</span><span style="letter-spacing:calc(var(--l) + -0.65px)">.</span><span style="letter-spacing:calc(var(--l) + -0.65px)">7</span>4%</div>
<div class="t" style="left:766.00px;top:549.46px;font-size:18.5px;color:#1b2a41;letter-spacing:0.240px;--l:0.240px;-webkit-text-stroke:0.2px #1b2a41;"><span style="letter-spacing:calc(var(--l) + -2.04px)">1</span>8.98%</div>
<div class="t" style="left:883.50px;top:549.46px;font-size:18.5px;color:#1b2a41;letter-spacing:0.225px;--l:0.225px;-webkit-text-stroke:0.2px #1b2a41;">0.52%</div>
<div class="t" style="left:1000.80px;top:549.46px;font-size:18.5px;color:#e0242b;letter-spacing:0.500px;--l:0.500px;-webkit-text-stroke:0.2px #e0242b;">2</div>
<div class="t" style="left:322.60px;top:610.58px;font-size:18.5px;color:#4a87e9;letter-spacing:0.083px;--l:0.083px;-webkit-text-stroke:0.2px #4a87e9;">Outlook</div>
<div class="t" style="left:531.30px;top:610.58px;font-size:18.5px;color:#1b2a41;letter-spacing:0.500px;--l:0.500px;-webkit-text-stroke:0.2px #1b2a41;">3<span style="letter-spacing:calc(var(--l) + -0.65px)">5</span><span style="letter-spacing:calc(var(--l) + -0.65px)">7</span></div>
<div class="t" style="left:648.60px;top:610.58px;font-size:18.5px;color:#1b2a41;letter-spacing:0.500px;--l:0.500px;-webkit-text-stroke:0.2px #1b2a41;"><span style="letter-spacing:calc(var(--l) + -1.11px)">5</span><span style="letter-spacing:calc(var(--l) + -2.04px)">1</span>.54%</div>
<div class="t" style="left:766.00px;top:610.58px;font-size:18.5px;color:#1b2a41;letter-spacing:0.320px;--l:0.320px;-webkit-text-stroke:0.2px #1b2a41;"><span style="letter-spacing:calc(var(--l) + -1.11px)">2</span><span style="letter-spacing:calc(var(--l) + -2.04px)">1</span>.85%</div>
<div class="t" style="left:883.50px;top:610.58px;font-size:18.5px;color:#1b2a41;letter-spacing:0.200px;--l:0.200px;-webkit-text-stroke:0.2px #1b2a41;"><span style="letter-spacing:calc(var(--l) + -2.04px)">1</span>.38%</div>
<div class="t" style="left:1000.80px;top:610.58px;font-size:18.5px;color:#1b2a41;letter-spacing:0.500px;--l:0.500px;-webkit-text-stroke:0.2px #1b2a41;">0</div>
<div class="t" style="left:322.60px;top:671.70px;font-size:18.5px;color:#4a87e9;letter-spacing:0.300px;--l:0.300px;-webkit-text-stroke:0.2px #4a87e9;">Yahoo</div>
<div class="t" style="left:531.30px;top:671.70px;font-size:18.5px;color:#1b2a41;letter-spacing:0.350px;--l:0.350px;-webkit-text-stroke:0.2px #1b2a41;"><span style="letter-spacing:calc(var(--l) + -2.04px)">1</span>29</div>
<div class="t" style="left:648.60px;top:671.70px;font-size:18.5px;color:#1b2a41;letter-spacing:0.500px;--l:0.500px;-webkit-text-stroke:0.2px #1b2a41;">53.49%</div>
<div class="t" style="left:766.00px;top:671.70px;font-size:18.5px;color:#1b2a41;letter-spacing:0.580px;--l:0.580px;-webkit-text-stroke:0.2px #1b2a41;">24.03%</div>
<div class="t" style="left:883.50px;top:671.70px;font-size:18.5px;color:#f4a02f;letter-spacing:0.325px;--l:0.325px;-webkit-text-stroke:0.2px #f4a02f;">3<span style="letter-spacing:calc(var(--l) + -0.65px)">.</span><span style="letter-spacing:calc(var(--l) + -0.65px)">7</span>3%</div>
<div class="t" style="left:1000.80px;top:671.70px;font-size:18.5px;color:#e0242b;letter-spacing:0.500px;--l:0.500px;-webkit-text-stroke:0.2px #e0242b;"><span style="letter-spacing:calc(var(--l) + -2.04px)">1</span></div>
<div class="t" style="left:1156.60px;top:366.10px;font-size:18.5px;color:#4a87e9;letter-spacing:0.190px;--l:0.190px;-webkit-text-stroke:0.2px #4a87e9;">Welcome email</div>
<div class="t" style="left:1364.30px;top:366.10px;font-size:18.5px;color:#1b2a41;letter-spacing:0.400px;--l:0.400px;-webkit-text-stroke:0.2px #1b2a41;">2.2K</div>
<div class="t" style="left:1482.60px;top:366.10px;font-size:18.5px;color:#1b2a41;letter-spacing:0.240px;--l:0.240px;-webkit-text-stroke:0.2px #1b2a41;">48.<span style="letter-spacing:calc(var(--l) + -1.11px)">8</span><span style="letter-spacing:calc(var(--l) + -2.04px)">1</span>%</div>
<div class="t" style="left:1599.00px;top:366.10px;font-size:18.5px;color:#1b2a41;letter-spacing:-0.160px;--l:-0.160px;-webkit-text-stroke:0.2px #1b2a41;"><span style="letter-spacing:calc(var(--l) + -2.68px)">1</span><span style="letter-spacing:calc(var(--l) + -0.65px)">7</span>.86%</div>
<div class="t" style="left:1716.50px;top:366.10px;font-size:18.5px;color:#f4a02f;letter-spacing:0.575px;--l:0.575px;-webkit-text-stroke:0.2px #f4a02f;">2.<span style="letter-spacing:calc(var(--l) + -1.11px)">4</span><span style="letter-spacing:calc(var(--l) + -2.04px)">1</span>%</div>
<div class="t" style="left:1833.80px;top:366.10px;font-size:18.5px;color:#e0242b;letter-spacing:0.500px;--l:0.500px;-webkit-text-stroke:0.2px #e0242b;">3</div>
<div class="t" style="left:1154.60px;top:427.22px;font-size:18.5px;color:#4a87e9;letter-spacing:0.190px;--l:0.190px;-webkit-text-stroke:0.2px #4a87e9;">Invoice email</div>
<div class="t" style="left:1364.30px;top:427.22px;font-size:18.5px;color:#1b2a41;letter-spacing:0.400px;--l:0.400px;-webkit-text-stroke:0.2px #1b2a41;">2.2K</div>
<div class="t" style="left:1482.60px;top:427.22px;font-size:18.5px;color:#1b2a41;letter-spacing:0.580px;--l:0.580px;-webkit-text-stroke:0.2px #1b2a41;">48.48%</div>
<div class="t" style="left:1599.00px;top:427.22px;font-size:18.5px;color:#1b2a41;letter-spacing:0.000px;--l:0.000px;-webkit-text-stroke:0.2px #1b2a41;"><span style="letter-spacing:calc(var(--l) + -2.68px)">1</span><span style="letter-spacing:calc(var(--l) + -0.65px)">7</span>.64%</div>
<div class="t" style="left:1716.50px;top:427.22px;font-size:18.5px;color:#f4a02f;letter-spacing:0.250px;--l:0.250px;-webkit-text-stroke:0.2px #f4a02f;">2<span style="letter-spacing:calc(var(--l) + -1.11px)">.</span><span style="letter-spacing:calc(var(--l) + -2.04px)">1</span>4%</div>
<div class="t" style="left:1833.80px;top:427.22px;font-size:18.5px;color:#f4a02f;letter-spacing:0.500px;--l:0.500px;-webkit-text-stroke:0.2px #f4a02f;">2</div>
<div class="t" style="left:1155.60px;top:488.34px;font-size:18.5px;color:#4a87e9;letter-spacing:0.190px;--l:0.190px;-webkit-text-stroke:0.2px #4a87e9;">Reset password</div>
<div class="t" style="left:1364.30px;top:488.34px;font-size:18.5px;color:#1b2a41;letter-spacing:0.400px;--l:0.400px;-webkit-text-stroke:0.2px #1b2a41;">2.2K</div>
<div class="t" style="left:1482.60px;top:488.34px;font-size:18.5px;color:#1b2a41;letter-spacing:0.060px;--l:0.060px;-webkit-text-stroke:0.2px #1b2a41;">48<span style="letter-spacing:calc(var(--l) + -1.11px)">.</span><span style="letter-spacing:calc(var(--l) + -2.04px)">1</span>9%</div>
<div class="t" style="left:1599.00px;top:488.34px;font-size:18.5px;color:#1b2a41;letter-spacing:-0.160px;--l:-0.160px;-webkit-text-stroke:0.2px #1b2a41;"><span style="letter-spacing:calc(var(--l) + -2.68px)">1</span><span style="letter-spacing:calc(var(--l) + -0.65px)">7</span>.36%</div>
<div class="t" style="left:1716.50px;top:488.34px;font-size:18.5px;color:#1b2a41;letter-spacing:0.250px;--l:0.250px;-webkit-text-stroke:0.2px #1b2a41;"><span style="letter-spacing:calc(var(--l) + -2.04px)">1</span>.<span style="letter-spacing:calc(var(--l) + -0.65px)">6</span><span style="letter-spacing:calc(var(--l) + -0.65px)">7</span>%</div>
<div class="t" style="left:1833.80px;top:488.34px;font-size:18.5px;color:#1b2a41;letter-spacing:0.500px;--l:0.500px;-webkit-text-stroke:0.2px #1b2a41;">0</div>
<div class="t" style="left:1154.60px;top:549.46px;font-size:18.5px;color:#4a87e9;letter-spacing:0.190px;--l:0.190px;-webkit-text-stroke:0.2px #4a87e9;">Invites</div>
<div class="t" style="left:1364.30px;top:549.46px;font-size:18.5px;color:#1b2a41;letter-spacing:0.400px;--l:0.400px;-webkit-text-stroke:0.2px #1b2a41;">2.2K</div>
<div class="t" style="left:1482.60px;top:549.46px;font-size:18.5px;color:#1b2a41;letter-spacing:0.500px;--l:0.500px;-webkit-text-stroke:0.2px #1b2a41;">48.08%</div>
<div class="t" style="left:1599.00px;top:549.46px;font-size:18.5px;color:#1b2a41;letter-spacing:-0.160px;--l:-0.160px;-webkit-text-stroke:0.2px #1b2a41;"><span style="letter-spacing:calc(var(--l) + -2.68px)">1</span><span style="letter-spacing:calc(var(--l) + -0.65px)">7</span>.23%</div>
<div class="t" style="left:1716.50px;top:549.46px;font-size:18.5px;color:#1b2a41;letter-spacing:-0.100px;--l:-0.100px;-webkit-text-stroke:0.2px #1b2a41;"><span style="letter-spacing:calc(var(--l) + -2.04px)">1</span>.<span style="letter-spacing:calc(var(--l) + -1.11px)">5</span><span style="letter-spacing:calc(var(--l) + -2.04px)">1</span>%</div>
<div class="t" style="left:1833.80px;top:549.46px;font-size:18.5px;color:#1b2a41;letter-spacing:0.500px;--l:0.500px;-webkit-text-stroke:0.2px #1b2a41;">0</div>
<div class="t" style="left:1155.60px;top:610.58px;font-size:18.5px;color:#4a87e9;letter-spacing:0.190px;--l:0.190px;-webkit-text-stroke:0.2px #4a87e9;">Setup Instructions</div>
<div class="t" style="left:1364.30px;top:610.58px;font-size:18.5px;color:#1b2a41;letter-spacing:-0.333px;--l:-0.333px;-webkit-text-stroke:0.2px #1b2a41;">2<span style="letter-spacing:calc(var(--l) + -1.11px)">.</span><span style="letter-spacing:calc(var(--l) + -2.04px)">1</span>K</div>
<div class="t" style="left:1482.60px;top:610.58px;font-size:18.5px;color:#1b2a41;letter-spacing:0.040px;--l:0.040px;-webkit-text-stroke:0.2px #1b2a41;"><span style="letter-spacing:calc(var(--l) + -0.65px)">4</span><span style="letter-spacing:calc(var(--l) + -0.65px)">7</span>.<span style="letter-spacing:calc(var(--l) + -0.65px)">9</span><span style="letter-spacing:calc(var(--l) + -0.65px)">7</span>%</div>
<div class="t" style="left:1599.00px;top:610.58px;font-size:18.5px;color:#1b2a41;letter-spacing:-0.160px;--l:-0.160px;-webkit-text-stroke:0.2px #1b2a41;"><span style="letter-spacing:calc(var(--l) + -2.68px)">1</span><span style="letter-spacing:calc(var(--l) + -0.65px)">7</span>.03%</div>
<div class="t" style="left:1716.50px;top:610.58px;font-size:18.5px;color:#1b2a41;letter-spacing:0.200px;--l:0.200px;-webkit-text-stroke:0.2px #1b2a41;"><span style="letter-spacing:calc(var(--l) + -2.04px)">1</span>.38%</div>
<div class="t" style="left:1833.80px;top:610.58px;font-size:18.5px;color:#1b2a41;letter-spacing:0.500px;--l:0.500px;-webkit-text-stroke:0.2px #1b2a41;">0</div>
<div class="t" style="left:1154.60px;top:671.70px;font-size:18.5px;color:#4a87e9;letter-spacing:0.190px;--l:0.190px;-webkit-text-stroke:0.2px #4a87e9;">Invite</div>
<div class="t" style="left:1364.30px;top:671.70px;font-size:18.5px;color:#1b2a41;letter-spacing:-0.333px;--l:-0.333px;-webkit-text-stroke:0.2px #1b2a41;">2<span style="letter-spacing:calc(var(--l) + -1.11px)">.</span><span style="letter-spacing:calc(var(--l) + -2.04px)">1</span>K</div>
<div class="t" style="left:1482.60px;top:671.70px;font-size:18.5px;color:#1b2a41;letter-spacing:0.100px;--l:0.100px;-webkit-text-stroke:0.2px #1b2a41;"><span style="letter-spacing:calc(var(--l) + -0.65px)">4</span><span style="letter-spacing:calc(var(--l) + -0.65px)">7</span>.64%</div>
<div class="t" style="left:1599.00px;top:671.70px;font-size:18.5px;color:#1b2a41;letter-spacing:0.060px;--l:0.060px;-webkit-text-stroke:0.2px #1b2a41;"><span style="letter-spacing:calc(var(--l) + -2.04px)">1</span>6.82%</div>
<div class="t" style="left:1716.50px;top:671.70px;font-size:18.5px;color:#1b2a41;letter-spacing:0.200px;--l:0.200px;-webkit-text-stroke:0.2px #1b2a41;"><span style="letter-spacing:calc(var(--l) + -2.04px)">1</span>.26%</div>
<div class="t" style="left:1833.80px;top:671.70px;font-size:18.5px;color:#1b2a41;letter-spacing:0.500px;--l:0.500px;-webkit-text-stroke:0.2px #1b2a41;">0</div>
<div class="t" style="left:1042.80px;top:721.90px;font-size:17.4px;color:#4a87e9;letter-spacing:-0.083px;--l:-0.083px;-webkit-text-stroke:0.25px #4a87e9;">See All</div>
<div class="t" style="left:1875.80px;top:721.90px;font-size:17.4px;color:#4a87e9;letter-spacing:-0.083px;--l:-0.083px;-webkit-text-stroke:0.25px #4a87e9;">See All</div>
<div class="t" style="left:980.20px;top:1050.30px;font-size:17.4px;color:#4a87e9;letter-spacing:-0.292px;--l:-0.292px;-webkit-text-stroke:0.25px #4a87e9;">Opened Emails</div>
<div class="t" style="left:1836.30px;top:1050.30px;font-size:17.4px;color:#4a87e9;letter-spacing:-0.182px;--l:-0.182px;-webkit-text-stroke:0.25px #4a87e9;">Email Clicks</div>
<div class="t" style="left:334.90px;top:802.90px;font-size:19px;color:#1b2a41;letter-spacing:-0.241px;--l:-0.241px;-webkit-text-stroke:0.6px #1b2a41;">Unique Open Rate %</div>
<div class="t" style="left:1167.70px;top:802.90px;font-size:19px;color:#1b2a41;letter-spacing:-0.145px;--l:-0.145px;-webkit-text-stroke:0.6px #1b2a41;">Click Rate %</div>
<div style="position:absolute;left:0px;top:1133px;width:1999px;height:1px;background:#000;"></div>
</body></html>
